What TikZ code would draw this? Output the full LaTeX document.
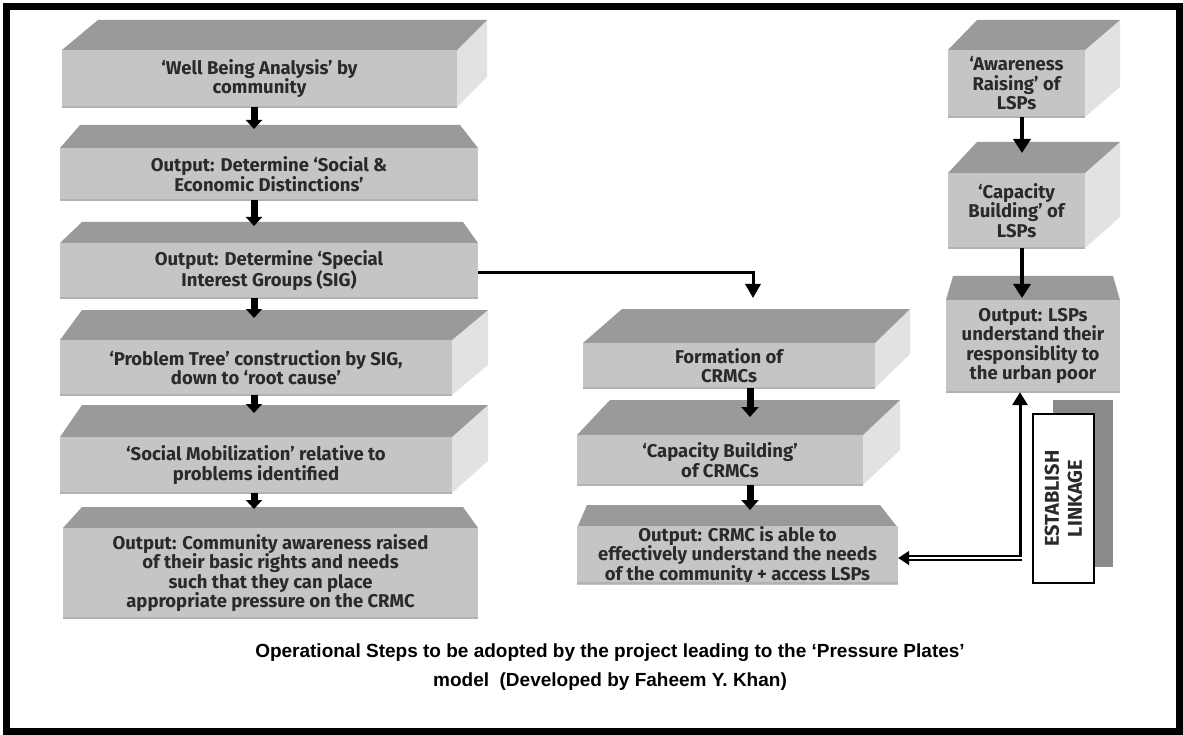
\documentclass[tikz,border=0pt]{standalone}
\usepackage{fontspec}
\setmainfont{Fira Sans}
\newfontfamily\capfont{Liberation Sans}
\usetikzlibrary{arrows.meta}

\definecolor{topface}{HTML}{9A9A9A}
\definecolor{frontface}{HTML}{C5C5C5}
\definecolor{sideface}{HTML}{E2E2E2}
\definecolor{frontedge}{HTML}{B2B2B2}
\definecolor{platetext}{HTML}{2A2A2A}
\definecolor{shadowgray}{HTML}{8A8A8A}

\tikzset{
  front/.style={fill=frontface, text=platetext, align=center, inner sep=0pt,
    font=\fontsize{18.5}{19.5}\selectfont\bfseries},
  leftarrow/.style={line width=7pt, -{Triangle[width=16pt,length=9pt]}},
  midarrow/.style={line width=7pt, -{Triangle[width=17pt,length=10pt]}},
  rightarrow/.style={line width=3.5pt, -{Triangle[width=17pt,length=14pt]}},
  feed/.style={line width=3pt, -{Triangle[width=15pt,length=14pt]}},
  linkup/.style={line width=3pt, -{Triangle[width=15pt,length=13pt]}},
  linkleft/.style={double, line width=1.7pt, double distance=2pt,
    -{Triangle[width=14pt,length=11pt]}},
  linkbox/.style={draw=black, line width=2.5pt, fill=white, text=platetext,
    inner sep=0pt, minimum width=61pt, minimum height=169pt},
  caption/.style={font=\capfont\bfseries\fontsize{19}{29}\selectfont, align=center}
}

% front face node plus top face; arguments:
% name, text, left x, right x, top y, bottom y, back y, back-left x, back-right x
\newcommand\platebody[9]{%
  \fill[topface] (#3,#5) -- (#8,#7) -- (#9,#7) -- (#4,#5) -- cycle;
  \node[front, minimum width={(#4-#3)*1pt}, minimum height={(#6-#5)*1pt}]
    (#1) at ({(#3+#4)/2},{(#5+#6)/2}) {#2};
  \draw[frontedge, line width=1.5pt] (#3,#6) -- (#4,#6);
}
% plate seen from the left: side face visible on the right
\newcommand\plate[9]{%
  \fill[sideface] (#4,#5) -- (#9,#7) -- (#9,{#7+#6-#5}) -- (#4,#6) -- cycle;
  \platebody{#1}{#2}{#3}{#4}{#5}{#6}{#7}{#8}{#9}%
}
% plate seen from the front: no side face
\newcommand\flatplate[9]{%
  \platebody{#1}{#2}{#3}{#4}{#5}{#6}{#7}{#8}{#9}%
}

\begin{document}
\begin{tikzpicture}[x=1pt,y=-1pt]
\useasboundingbox (0,0) rectangle (1183,735);
\fill[white] (0,0) rectangle (1183,735);
\draw[line width=7pt] (6.5,6.5) rectangle (1179.5,731.5);

% community column
\plate{b1}{‘Well Being Analysis’ by\\community}{62}{457}{50}{107}{20}{98}{487}
\flatplate{b2}{Output: Determine ‘Social \&\\Economic Distinctions’}{60}{478}{148}{200}{125}{80}{460}
\flatplate{b3}{Output: Determine ‘Special\\Interest Groups (SIG)}{60}{478}{243}{298}{222}{82}{463}
\plate{b4}{‘Problem Tree’ construction by SIG,\\down to ‘root cause’}{60}{452}{340}{395}{310}{82}{488}
\plate{b5}{‘Social Mobilization’ relative to\\problems identified}{60}{452}{437}{493}{405}{82}{488}
\flatplate{b6}{Output: Community awareness raised\\of their basic rights and needs\\such that they can place\\appropriate pressure on the CRMC}{63}{478}{528}{618}{507}{82}{463}

% CRMC column
\plate{m1}{Formation of\\CRMCs}{583}{875}{343}{388}{309}{622}{910}
\plate{m2}{‘Capacity Building’\\of CRMCs}{577}{863}{435}{485}{400}{610}{900}
\flatplate{m3}{\fontsize{18.5}{17.5}\selectfont Output: CRMC is able to\\effectively understand the needs\\of the community + access LSPs}{577}{898}{528}{583}{505}{587}{880}

% LSP column
\plate{r1}{‘Awareness\\Raising’ of\\LSPs}{948}{1085}{50}{117}{20}{977}{1120}
\plate{r2}{‘Capacity\\Building’ of\\LSPs}{948}{1085}{173}{248}{142}{977}{1120}
\flatplate{r3}{\fontsize{18.5}{20.5}\selectfont Output: LSPs\\understand their\\responsiblity to\\the urban poor}{946}{1120}{300}{392}{276}{953}{1113}

% arrow ends
\coordinate (t2) at (254,129);
\coordinate (t3) at (254,226);
\coordinate (t4) at (254,318);
\coordinate (t5) at (254,413);
\coordinate (t6) at (254,509);
\coordinate (sigturn) at (753,273);
\coordinate (tm1) at (753,298);
\coordinate (tm2) at (750,417);
\coordinate (tm3) at (750,510);
\coordinate (tr2) at (1022,153);
\coordinate (tr3) at (1022,298);
\coordinate (lk) at (1020,558);

\draw[leftarrow] (t2 |- b1.south) -- (t2);
\draw[leftarrow] (t3 |- b2.south) -- (t3);
\draw[leftarrow] (t4 |- b3.south) -- (t4);
\draw[leftarrow] (t5 |- b4.south) -- (t5);
\draw[leftarrow] (t6 |- b5.south) -- (t6);

\draw[feed] (b3.east |- sigturn) -- (sigturn) -- (tm1);
\draw[midarrow] (tm2 |- m1.south) -- (tm2);
\draw[midarrow] (tm3 |- m2.south) -- (tm3);

\draw[rightarrow] (tr2 |- r1.south) -- (tr2);
\draw[rightarrow] (tr3 |- r2.south) -- (tr3);

% linkage tab
\fill[shadowgray] (1053,400) rectangle (1113,567);
\node[linkbox] (link) at (1063.5,498.5)
  {\rotatebox{90}{\parbox{150pt}{\centering\fontsize{20}{23}\selectfont\bfseries ESTABLISH\\LINKAGE}}};

\draw[linkup] (lk) -- (lk |- r3.south);
\draw[linkleft] ([xshift=1.5pt]lk) -- (m3.east |- lk);

% caption
\node[caption] (cap) at (610,667)
  {Operational Steps to be adopted by the project leading to the ‘Pressure Plates’\\
   model\ \ (Developed by Faheem Y. Khan)};
\end{tikzpicture}
\end{document}
